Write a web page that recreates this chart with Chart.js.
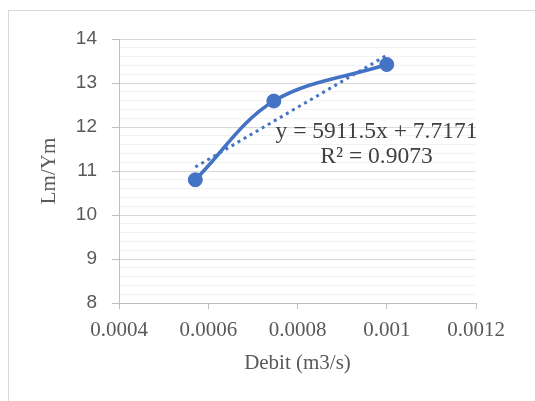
<!DOCTYPE html>
<html>
<head>
<meta charset="utf-8">
<script src="https://cdn.jsdelivr.net/npm/chart.js@4"></script>
<style>
  html,body{margin:0;padding:0;background:#fff}
  #frame{position:absolute;left:8px;top:10px;width:540px;height:400px;border:1px solid #D9D9D9;box-sizing:border-box}
  #wrap{position:absolute;left:0;top:0;width:535px;height:401px}
</style>
</head>
<body>
<div id="frame"></div>
<div id="wrap"><canvas id="c" width="535" height="401"></canvas></div>
<script>
// data
const debit = [0.000571, 0.000747, 0.001];
const lmYm = [10.8, 12.59, 13.42];
// linear trendline ends
const trendX = [0.000571, 0.001];
const trendY = [11.09, 13.63];
const trendLabel = ['y = 5911.5x + 7.7171', 'R\u00b2 = 0.9073'];
const xTicks = [0.0004, 0.0006, 0.0008, 0.001, 0.0012];

const blue = '#4472C4';
const serif = '"Liberation Serif", "Times New Roman", serif';
const isMajor = v => Math.abs(v - Math.round(v)) < 1e-6;

const trendText = {
  id: 'trendText',
  afterDatasetsDraw(chart) {
    const {ctx, scales: {x, y}} = chart;
    const cx = x.getPixelForValue(0.000977);
    const cy = y.getPixelForValue(11.9);
    ctx.save();
    ctx.font = '23.5px ' + serif;
    ctx.fillStyle = '#404040';
    ctx.textAlign = 'center';
    ctx.textBaseline = 'middle';
    trendLabel.forEach((t, i) => ctx.fillText(t, cx, cy + i * 25.5));
    ctx.restore();
  }
};

new Chart(document.getElementById('c'), {
  type: 'scatter',
  data: {
    datasets: [
      {
        data: debit.map((v, i) => ({x: v, y: lmYm[i]})),
        showLine: true, tension: 0.35,
        borderColor: blue, backgroundColor: blue, borderWidth: 3.5,
        pointRadius: 7, pointBorderWidth: 1, pointBorderColor: blue
      },
      {
        data: trendX.map((v, i) => ({x: v, y: trendY[i]})),
        showLine: true, tension: 0,
        borderColor: blue, borderWidth: 3, borderDash: [3, 4],
        pointRadius: 0
      }
    ]
  },
  options: {
    responsive: false, animation: false,
    layout: {padding: {top: 39, right: 59, left: 0, bottom: 0}},
    plugins: {legend: {display: false}, tooltip: {enabled: false}},
    scales: {
      x: {
        type: 'linear', min: 0.0004, max: 0.0012,
        afterFit: s => { s.height = 98; },
        afterBuildTicks: s => { s.ticks = xTicks.map(v => ({value: v})); },
        border: {color: '#BFBFBF'},
        grid: {drawOnChartArea: false, drawTicks: true, tickLength: 6, tickColor: '#BFBFBF'},
        ticks: {
          padding: 9, color: '#595959', maxRotation: 0,
          font: {family: serif, size: 21},
          callback: v => String(+v.toFixed(4))
        },
        title: {
          display: true, text: 'Debit (m3/s)', color: '#595959',
          font: {family: serif, size: 21},
          padding: {top: 0, bottom: 25}
        }
      },
      y: {
        min: 8, max: 14,
        afterFit: s => { s.width = 119; },
        border: {color: '#BFBFBF'},
        grid: {
          color: c => isMajor(c.tick.value) ? '#D9D9D9' : '#F2F2F2',
          tickColor: c => isMajor(c.tick.value) ? '#BFBFBF' : 'rgba(0,0,0,0)',
          tickLength: 7
        },
        ticks: {
          stepSize: 0.2, autoSkip: false, padding: 15, color: '#595959',
          font: {family: '"Liberation Sans", Arial, sans-serif', size: 19},
          callback: v => isMajor(v) ? String(Math.round(v)) : ''
        },
        title: {
          display: true, text: 'Lm/Ym', color: '#595959',
          font: {family: serif, size: 21},
          padding: {top: 37, bottom: 0}
        }
      }
    }
  },
  plugins: [trendText]
});
</script>
</body>
</html>
